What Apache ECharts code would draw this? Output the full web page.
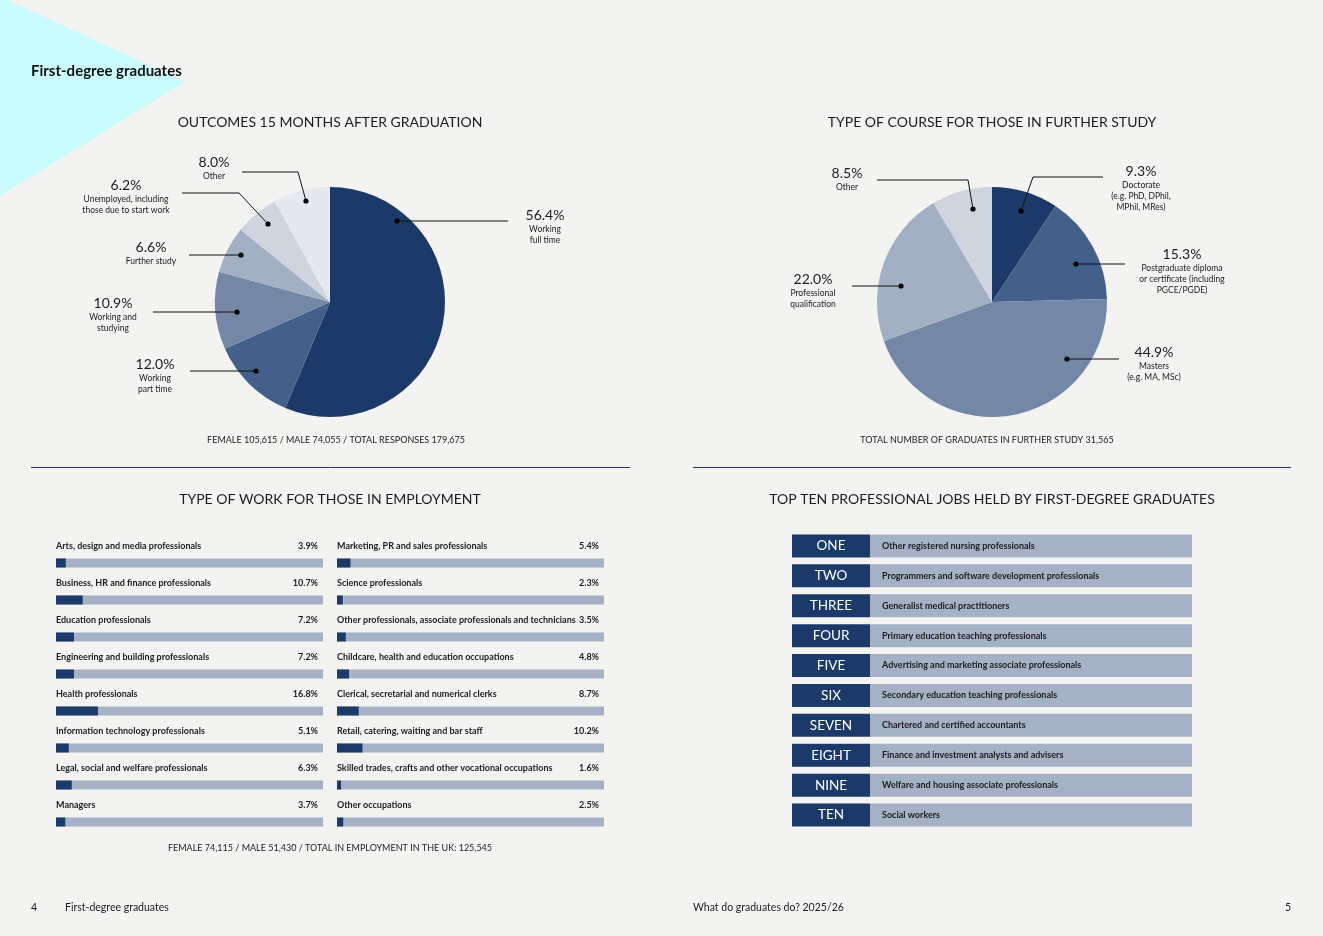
<!DOCTYPE html>
<html>
<head>
<meta charset="utf-8">
<script src="https://cdn.jsdelivr.net/npm/echarts@6/dist/echarts.min.js"></script>
<style>
  html, body { margin: 0; padding: 0; background: #f3f3f1; }
  #page { width: 1323px; height: 936px; }
</style>
</head>
<body>
<div id="page"></div>
<script>
// outcomes pie
const outcomeNames = ['Working\nfull time', 'Working\npart time', 'Working and\nstudying', 'Further study',
  'Unemployed, including\nthose due to start work', 'Other'];
const outcomeValues = [56.4, 12.0, 10.9, 6.6, 6.2, 8.0];

// further study pie
const courseNames = ['Doctorate\n(e.g. PhD, DPhil,\nMPhil, MRes)', 'Postgraduate diploma\nor certificate (including\nPGCE/PGDE)',
  'Masters\n(e.g. MA, MSc)', 'Professional\nqualification', 'Other'];
const courseValues = [9.3, 15.3, 44.9, 22.0, 8.5];

// type of work bars
const workLeftNames = ['Arts, design and media professionals', 'Business, HR and finance professionals',
  'Education professionals', 'Engineering and building professionals', 'Health professionals',
  'Information technology professionals', 'Legal, social and welfare professionals', 'Managers'];
const workLeftValues = [3.9, 10.7, 7.2, 7.2, 16.8, 5.1, 6.3, 3.7];
const workRightNames = ['Marketing, PR and sales professionals', 'Science professionals',
  'Other professionals, associate professionals and technicians', 'Childcare, health and education occupations',
  'Clerical, secretarial and numerical clerks', 'Retail, catering, waiting and bar staff',
  'Skilled trades, crafts and other vocational occupations', 'Other occupations'];
const workRightValues = [5.4, 2.3, 3.5, 4.8, 8.7, 10.2, 1.6, 2.5];

// top ten jobs
const rankLabels = ['ONE', 'TWO', 'THREE', 'FOUR', 'FIVE', 'SIX', 'SEVEN', 'EIGHT', 'NINE', 'TEN'];
const topJobs = ['Other registered nursing professionals', 'Programmers and software development professionals',
  'Generalist medical practitioners', 'Primary education teaching professionals',
  'Advertising and marketing associate professionals', 'Secondary education teaching professionals',
  'Chartered and certified accountants', 'Finance and investment analysts and advisers',
  'Welfare and housing associate professionals', 'Social workers'];

// label placement (x, top y, leader line starting at the dot)
const outcomeLabelAt = [
  { x: 545, y: 206, line: [[397, 221], [508, 221]] },
  { x: 155, y: 355, line: [[256, 371], [190, 371]] },
  { x: 113, y: 294, line: [[237, 312], [153, 312]] },
  { x: 151, y: 238, line: [[241, 255], [189, 255]] },
  { x: 126, y: 176, line: [[268, 224], [239, 193], [182, 193]] },
  { x: 214, y: 153, line: [[306, 201], [298, 172], [242, 172]] }
];
const courseLabelAt = [
  { x: 1141, y: 162, line: [[1021, 211], [1033, 177], [1103, 177]] },
  { x: 1182, y: 245, line: [[1076, 264], [1125, 264]] },
  { x: 1154, y: 343, line: [[1067, 359], [1119, 359]] },
  { x: 813, y: 270, line: [[901, 286], [852, 286]] },
  { x: 847, y: 164, line: [[973, 209], [968, 180], [877, 180]] }
];

const navy = '#1b3a69';
const track = '#a5b1c5';
const ink = '#1c1c1c';
const font = 'Lato, "Noto Sans", sans-serif';
const outcomeColors = ['#1b3a69', '#42608a', '#7487a6', '#a3afc3', '#cfd5df', '#e5e8ee'];
const courseColors = ['#1b3a69', '#42608a', '#7487a6', '#a3afc3', '#cfd5df'];

const pieLabel = {
  show: true,
  position: 'outside',
  fontFamily: font,
  formatter: p => '{p|' + p.value.toFixed(1) + '%}\n' +
    p.name.split('\n').map(s => '{n|' + s + '}').join('\n'),
  rich: {
    p: { fontSize: 14, lineHeight: 18, color: ink, align: 'center', fontFamily: font },
    n: { fontSize: 8.5, lineHeight: 11, color: ink, align: 'center', fontFamily: font }
  }
};

function pieSeries(names, values, colors, center, labelAt) {
  return {
    type: 'pie',
    center: center,
    radius: 115,
    startAngle: 90,
    clockwise: true,
    avoidLabelOverlap: false,
    emphasis: { disabled: true },
    itemStyle: { borderWidth: 0 },
    label: pieLabel,
    labelLine: { show: false },
    labelLayout: p => {
      const a = labelAt[p.dataIndex];
      return { x: a.x, y: a.y, align: 'center', verticalAlign: 'top' };
    },
    data: values.map((v, i) => ({ name: names[i], value: v, itemStyle: { color: colors[i] } }))
  };
}

function workSeries(idx, names, values) {
  return [{
    type: 'bar', xAxisIndex: idx, yAxisIndex: idx,
    barWidth: 9, barGap: '-100%', silent: true, z: 2,
    itemStyle: { color: track },
    label: {
      show: true, position: ['100%', -12], align: 'right', verticalAlign: 'middle', offset: [-5, 0],
      fontFamily: font, fontSize: 9, fontWeight: 'bold', color: ink,
      formatter: p => values[p.dataIndex].toFixed(1) + '%'
    },
    data: names.map(() => 107)
  }, {
    type: 'bar', xAxisIndex: idx, yAxisIndex: idx,
    barWidth: 9, barGap: '-100%', silent: true, z: 3,
    itemStyle: { color: navy },
    label: {
      show: true, position: [0, -12], align: 'left', verticalAlign: 'middle',
      fontFamily: font, fontSize: 9, fontWeight: 'bold', color: ink,
      formatter: p => names[p.dataIndex]
    },
    data: values
  }];
}

function txt(text, x, y, size, opts) {
  return {
    type: 'text', z: 50, silent: true,
    style: Object.assign({
      text: text, x: x, y: y, fill: ink, fontSize: size, fontFamily: font,
      align: 'center', verticalAlign: 'middle'
    }, opts || {})
  };
}

const leaders = outcomeLabelAt.concat(courseLabelAt);
const leaderLines = leaders.map(a => ({
  type: 'polyline', z: 60, silent: true,
  shape: { points: a.line },
  style: { stroke: '#111', lineWidth: 1, fill: null }
}));
const dots = leaders.map(a => ({
  type: 'circle', z: 61, silent: true,
  shape: { cx: a.line[0][0], cy: a.line[0][1], r: 2.6 },
  style: { fill: '#000' }
}));

const chart = echarts.init(document.getElementById('page'));
chart.setOption({
  animation: false,
  backgroundColor: '#f3f3f1',
  grid: [
    { left: 56, top: 544.5, width: 267, height: 296 },
    { left: 337, top: 544.5, width: 267, height: 296 },
    { left: 792, top: 531, width: 400, height: 299 }
  ],
  xAxis: [
    { gridIndex: 0, type: 'value', min: 0, max: 107, show: false },
    { gridIndex: 1, type: 'value', min: 0, max: 107, show: false },
    { gridIndex: 2, type: 'value', min: 0, max: 400, show: false }
  ],
  yAxis: [
    { gridIndex: 0, type: 'category', inverse: true, data: workLeftNames, show: false },
    { gridIndex: 1, type: 'category', inverse: true, data: workRightNames, show: false },
    { gridIndex: 2, type: 'category', inverse: true, data: rankLabels, show: false }
  ],
  series: [
    pieSeries(outcomeNames, outcomeValues, outcomeColors, [330, 302], outcomeLabelAt),
    pieSeries(courseNames, courseValues, courseColors, [992, 302], courseLabelAt),
    ...workSeries(0, workLeftNames, workLeftValues),
    ...workSeries(1, workRightNames, workRightValues),
    {
      type: 'bar', xAxisIndex: 2, yAxisIndex: 2, stack: 'row', barWidth: 23, silent: true,
      itemStyle: { color: navy },
      label: {
        show: true, position: 'inside', color: '#fff', fontFamily: font, fontSize: 13.5,
        formatter: p => rankLabels[p.dataIndex]
      },
      data: rankLabels.map(() => 78)
    },
    {
      type: 'bar', xAxisIndex: 2, yAxisIndex: 2, stack: 'row', barWidth: 23, silent: true,
      itemStyle: { color: track },
      label: {
        show: true, position: 'insideLeft', distance: 12, color: ink, fontFamily: font,
        fontSize: 9, fontWeight: 'bold',
        formatter: p => topJobs[p.dataIndex]
      },
      data: topJobs.map(() => 322)
    }
  ],
  graphic: [
    { type: 'polygon', z: 0, silent: true,
      shape: { points: [[0, 0], [8, 0], [185, 82], [0, 196]] }, style: { fill: '#cbfcfd' } },
    txt('First-degree graduates', 31, 71, 15, { align: 'left', fontWeight: 'bold', fill: '#111' }),
    txt('OUTCOMES 15 MONTHS AFTER GRADUATION', 330, 122, 14),
    txt('TYPE OF COURSE FOR THOSE IN FURTHER STUDY', 992, 122, 14),
    txt('TYPE OF WORK FOR THOSE IN EMPLOYMENT', 330, 499, 14),
    txt('TOP TEN PROFESSIONAL JOBS HELD BY FIRST-DEGREE GRADUATES', 992, 499, 14),
    txt('FEMALE 105,615 / MALE 74,055 / TOTAL RESPONSES 179,675', 336, 440, 9),
    txt('TOTAL NUMBER OF GRADUATES IN FURTHER STUDY 31,565', 987, 440, 9),
    txt('FEMALE 74,115 / MALE 51,430 / TOTAL IN EMPLOYMENT IN THE UK: 125,545', 330, 848, 9),
    { type: 'line', silent: true, shape: { x1: 31, y1: 467.5, x2: 630, y2: 467.5 }, style: { stroke: navy, lineWidth: 1 } },
    { type: 'line', silent: true, shape: { x1: 693, y1: 467.5, x2: 1291, y2: 467.5 }, style: { stroke: navy, lineWidth: 1 } },
    txt('4', 31, 908, 10.5, { align: 'left' }),
    txt('First-degree graduates', 65, 908, 10.5, { align: 'left' }),
    txt('What do graduates do? 2025/26', 693, 908, 10.5, { align: 'left' }),
    txt('5', 1291, 908, 10.5, { align: 'right' }),
    ...leaderLines,
    ...dots
  ]
});
</script>
</body>
</html>
